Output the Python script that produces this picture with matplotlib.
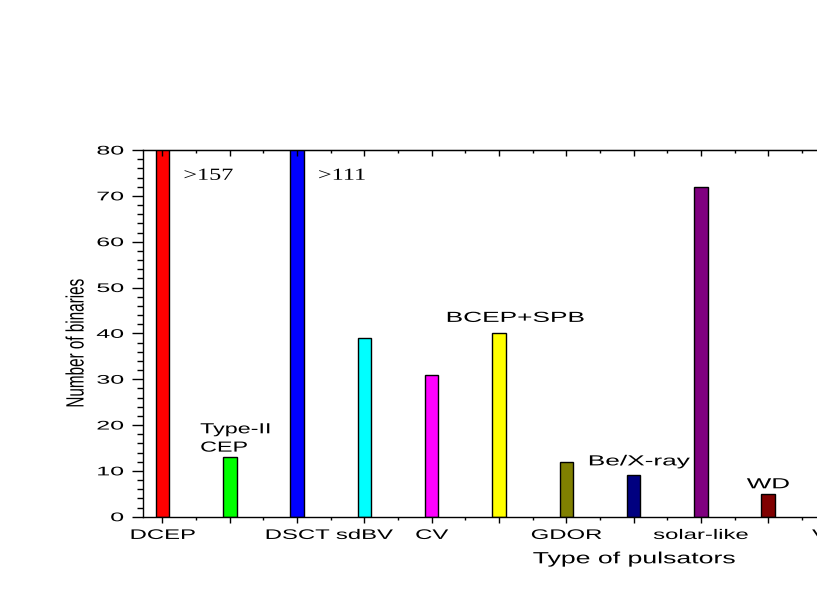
import numpy as np
import matplotlib
matplotlib.use('Agg')
import matplotlib.pyplot as plt
import matplotlib.patheffects as pe
from matplotlib.transforms import Affine2D
from matplotlib.ticker import MultipleLocator

categories = ['DCEP', 'Type-II CEP', 'DSCT', 'sdBV', 'CV', 'BCEP+SPB',
              'GDOR', 'Be/X-ray', 'solar-like', 'WD']
counts = [157, 13, 111, 39, 31, 40, 12, 9, 72, 5]
colors = ['#ff0000', '#00ff00', '#0000ff', '#00ffff', '#ff00ff', '#ffff00',
          '#808000', '#000080', '#800080', '#800000']
tick_labels = ['DCEP', '', 'DSCT', 'sdBV', 'CV', '', 'GDOR', '', 'solar-like', '', 'VAR']
y_max = 80

plt.rcParams['font.family'] = ['Liberation Sans', 'DejaVu Sans']


class Stretch(pe.AbstractPathEffect):
    # widen (or squeeze) the glyphs sideways, the original plot used odd font widths
    def __init__(self, sx, anchor=0.5):
        super().__init__()
        self.sx = sx
        self.anchor = anchor

    def draw_path(self, renderer, gc, tpath, affine, rgbFace=None):
        xs = tpath.vertices[:, 0]
        if len(xs) == 0:
            return
        x0 = xs.min() + self.anchor * (xs.max() - xs.min())
        t = Affine2D().translate(-x0, 0).scale(self.sx, 1).translate(x0, 0) + affine
        renderer.draw_path(gc, tpath, t, rgbFace)


W, H = 817, 599
fig = plt.figure(figsize=(W / 100, H / 100), dpi=100)
# axes runs past the right edge of the figure, like in the original
ax = fig.add_axes([142.7 / W, 1 - 516.7 / H, 726.4 / W, 366.7 / H])

x = np.arange(len(counts))
ax.bar(x, counts, width=0.2, color=colors, edgecolor='black', linewidth=1.0, zorder=1)
ax.set_xlim(-0.294, 10.5)
ax.set_ylim(0, y_max)

for s in ax.spines.values():
    s.set_linewidth(1.0)

ax.set_xticks(np.arange(len(tick_labels)))
ax.set_xticklabels(tick_labels)
ax.xaxis.set_minor_locator(MultipleLocator(0.5))
ax.yaxis.set_major_locator(MultipleLocator(10))
ax.yaxis.set_minor_locator(MultipleLocator(2))
ax.tick_params(axis='x', which='major', direction='out', length=4.3, width=1, pad=3.8, labelsize=10)
ax.tick_params(axis='x', which='minor', direction='out', length=2.3, width=1)
ax.tick_params(axis='y', which='major', direction='out', length=8, width=1, pad=5.7, labelsize=9)
ax.tick_params(axis='y', which='minor', direction='out', length=4.3, width=1)

for lab in ax.get_xticklabels():
    lab.set_path_effects([Stretch(1.72)])
for lab in ax.get_yticklabels():
    lab.set_path_effects([Stretch(2.0, anchor=1.0)])

# inward ticks along the top
top = ax.secondary_xaxis('top')
top.set_xticks(np.arange(len(tick_labels)))
top.set_xticklabels([])
top.xaxis.set_minor_locator(MultipleLocator(0.5))
top.tick_params(which='major', direction='in', length=4.3, width=1)
top.tick_params(which='minor', direction='in', length=2.3, width=1)
top.set_zorder(3)

# counts of the bars that go off the top
for i, c in enumerate(counts):
    if c > y_max:
        ax.text(i + 0.31, 73.5, f'>{c}', family='Liberation Serif', fontsize=12.2,
                ha='left', va='baseline', path_effects=[Stretch(1.43, anchor=0)])

# names written above the bars
ax.text(0.559, 18.2, 'Type-II', fontsize=10.5, ha='left', va='baseline',
        path_effects=[Stretch(1.6, anchor=0)])
ax.text(0.559, 14.2, 'CEP', fontsize=10.5, ha='left', va='baseline',
        path_effects=[Stretch(1.6, anchor=0)])
ax.text(5.24, 42.5, categories[5], fontsize=10.5, ha='center', va='baseline',
        path_effects=[Stretch(1.8)])
ax.text(7.08, 11.2, categories[7], fontsize=10.5, ha='center', va='baseline',
        path_effects=[Stretch(1.8)])
ax.text(9.0, 6.2, categories[9], fontsize=10.5, ha='center', va='baseline',
        path_effects=[Stretch(1.78)])

fig.text(634 / W, 1 - 563.3 / H, 'Type of pulsators', fontsize=11.7, ha='center',
         va='baseline', path_effects=[Stretch(1.64)])
fig.text(83.5 / W, 1 - 343 / H, 'Number of binaries', fontsize=18, rotation=90,
         rotation_mode='anchor', ha='center', va='baseline',
         path_effects=[Stretch(0.61)])

fig.savefig('out.png', dpi=100)
